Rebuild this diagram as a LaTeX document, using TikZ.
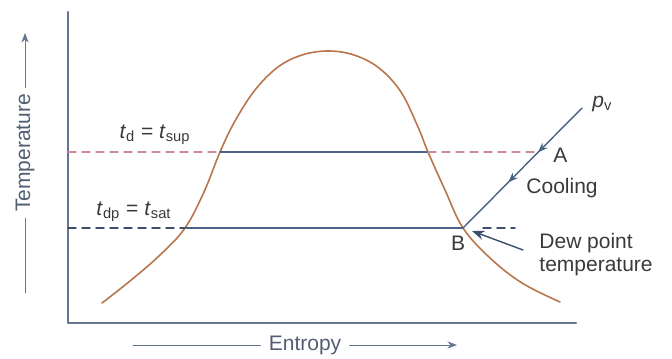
\documentclass[tikz,border=0pt]{standalone}
\usepackage{fontspec}
\setmainfont{Liberation Sans}
\usetikzlibrary{arrows.meta, positioning, calc, decorations.markings}

\definecolor{axisgray}{HTML}{65758F}
\definecolor{linblue}{HTML}{4A6284}
\definecolor{domeorange}{HTML}{B8764C}
\definecolor{dashpink}{HTML}{C98C98}
\definecolor{txtgray}{HTML}{3A3A3A}

\newcommand{\tsub}[1]{\textit{t}\textsubscript{#1}}

\tikzset{
    lbl/.style={text=txtgray, inner sep=1pt, font=\fontsize{10.5}{11.5}\selectfont},
    axislbl/.style={lbl, text=axisgray!80!black},
    isoline/.style={linblue, line width=0.7pt},
    dashline/.style={dashed, dash pattern=on 4pt off 3pt, line width=0.7pt}
}

\begin{document}
\begin{tikzpicture}[x=0.5pt, y=-0.5pt, >=Stealth, line cap=round, line join=round]
    \useasboundingbox (0,0) rectangle (672,358);

    % Axes
    \coordinate (origin) at (68,323);
    \coordinate (ytop) at (68,12);
    \coordinate (xend) at (576,323);
    \draw[axisgray, line width=1.1pt] (ytop) -- (origin) -- (xend);

    % Axis labels
    \node[axislbl, rotate=90] (temp) at (25,153) {Temperature};
    \coordinate (tbot) at (25,293);
    \coordinate (ttop) at (25,33);
    \draw[axisgray] (tbot) -- ([yshift=-2pt]temp.west);
    \draw[axisgray, ->] ([yshift=2pt]temp.east) -- (ttop);

    \node[axislbl] (ent) at (305,345) {Entropy};
    \coordinate (eleft) at (133,345);
    \coordinate (eright) at (457,345);
    \draw[axisgray] (eleft) -- ([xshift=-3pt]ent.west);
    \draw[axisgray, ->] ([xshift=3pt]ent.east) -- (eright);

    % Saturation dome
    \draw[domeorange, line width=0.8pt] plot[smooth, tension=0.6] coordinates {
        (102,303) (130,281) (160,255) (185,228) (204,192) (220,152)
        (235,121) (255,90) (278,67) (302,55) (328,51) (354,55)
        (379,68) (401,92) (418,127) (428,152) (445,190) (463,228)
        (490,258) (522,283) (560,302)
    };

    % Key points
    \coordinate (B) at (463,228);
    \coordinate (A) at (539,152);
    \coordinate (pv) at (582,108);
    \coordinate (upL) at (68,152);
    \coordinate (upX1) at (220,152);
    \coordinate (upX2) at (428,152);
    \coordinate (loL) at (68,228);
    \coordinate (loX1) at (185,228);
    \coordinate (loR1) at (483,228);
    \coordinate (loR2) at (515,228);

    % Dry bulb temperature line
    \draw[dashline, dashpink] (upL) -- (upX1);
    \draw[isoline] (upX1) -- (upX2);
    \draw[dashline, dashpink] (upX2) -- (A);

    % Dew point temperature line
    \draw[dashline, linblue!80!black] (loL) -- (loX1);
    \draw[isoline] (loX1) -- (B);
    \draw[dashline, linblue!80!black] (loR1) -- (loR2);

    % Constant vapour pressure line
    \draw[isoline, decoration={markings,
            mark=at position 0.37 with {\arrow{Stealth[length=5pt]}},
            mark=at position 0.62 with {\arrow{Stealth[length=5pt]}}},
        postaction={decorate}] (pv) -- (B);

    % Labels
    \node[lbl] (lbltd) at (155,135) {\tsub{d} = \tsub{sup}};
    \node[lbl] (lbldp) at (134,212) {\tsub{dp} = \tsub{sat}};
    \node[lbl, anchor=west] (lblA) at (551,155) {A};
    \node[lbl, anchor=west] (lblpv) at (590,104) {\textit{p}\textsubscript{v}};
    \node[lbl, anchor=west] (lblcool) at (524,188) {Cooling};
    \node[lbl] (lblB) at (458,243) {B};
    \node[lbl, anchor=north west, align=left] (lbldew) at (537,231)
        {Dew point\\temperature};

    \coordinate (dewtail) at (523,250);
    \coordinate (dewhead) at (472,231);
    \draw[linblue!80!black, line width=0.7pt, ->] (dewtail) -- (dewhead);

\end{tikzpicture}
\end{document}
